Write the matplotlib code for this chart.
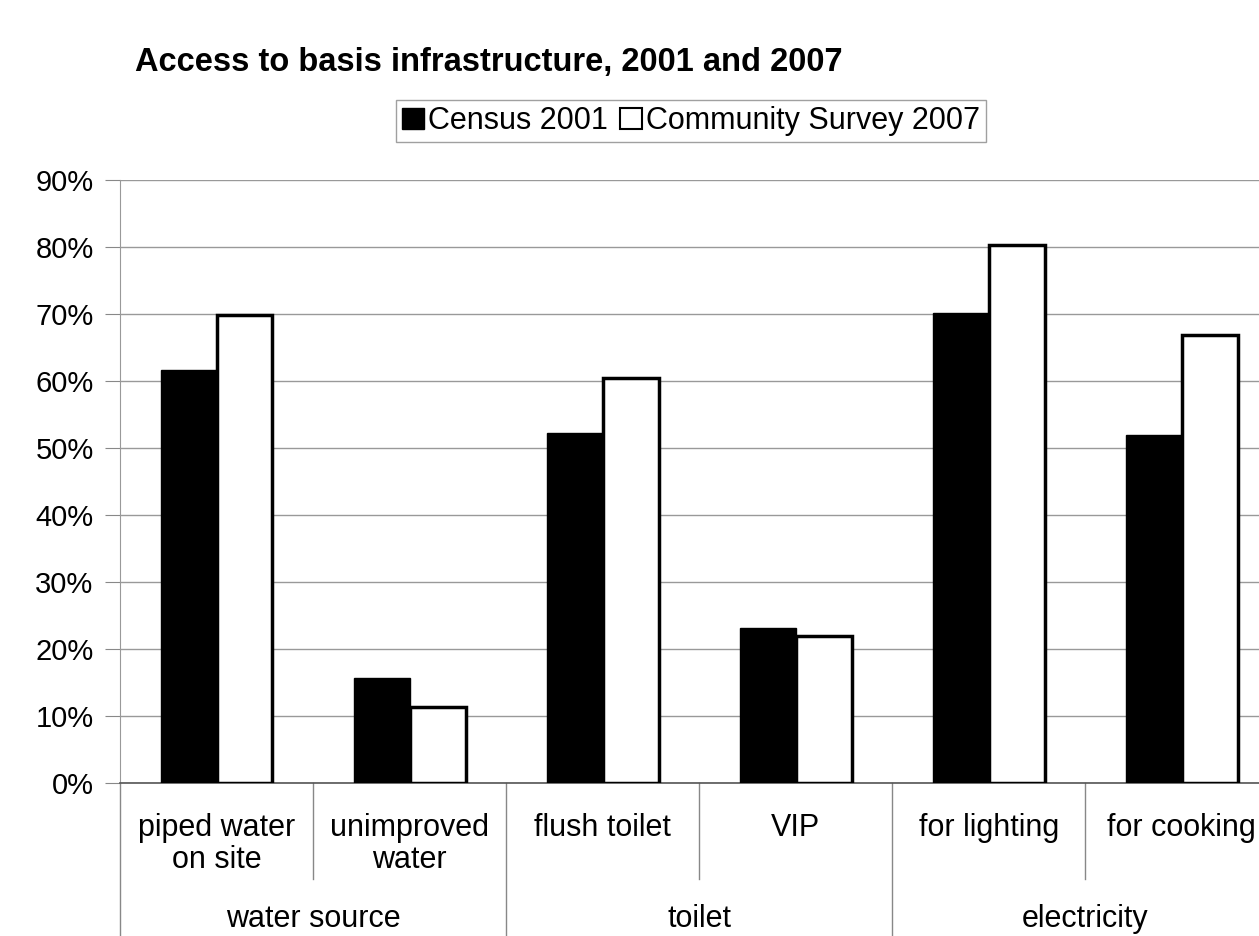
import matplotlib
matplotlib.use("Agg")
import matplotlib.pyplot as plt
from matplotlib.patches import Patch
from matplotlib.ticker import FuncFormatter

plt.rcParams['font.family'] = ['Liberation Sans', 'DejaVu Sans']

# data (percent)
categories = ["piped water\non site", "unimproved\nwater", "flush toilet",
              "VIP", "for lighting", "for cooking"]
groups = ["water source", "toilet", "electricity"]
census_2001 = [61.7, 15.6, 52.3, 23.1, 70.2, 51.9]
survey_2007 = [69.8, 11.3, 60.5, 21.9, 80.3, 66.8]
y_ticks = [0, 10, 20, 30, 40, 50, 60, 70, 80, 90]

fig = plt.figure(figsize=(12.59, 9.36), dpi=100)
ax = fig.add_axes([0.0953, 0.1635, 0.92, 0.6442])

x = list(range(len(categories)))
w = 0.29
ax.bar([i - w / 2 for i in x], census_2001, width=w, color="black",
       edgecolor="black", linewidth=1, zorder=3)
ax.bar([i + w / 2 for i in x], survey_2007, width=w, color="white",
       edgecolor="black", linewidth=2.5, zorder=3)

ax.set_xlim(-0.5, len(categories) - 0.5)
ax.set_ylim(0, 90)
ax.set_yticks(y_ticks)
ax.yaxis.set_major_formatter(FuncFormatter(lambda v, p: f"{v:.0f}%"))
ax.tick_params(axis="y", labelsize=21, length=11, color="#888888", pad=8)
ax.set_xticks([])
ax.yaxis.grid(True, color="#999999", linewidth=1)
ax.set_axisbelow(True)

for s in ["top", "right"]:
    ax.spines[s].set_visible(False)
ax.spines["left"].set_color("#999999")
ax.spines["bottom"].set_color("#555555")
ax.spines["bottom"].set_linewidth(1.2)

# two level category axis
trans = ax.get_xaxis_transform()
for i, lab in enumerate(categories):
    ax.text(i, -0.05, lab, transform=trans, ha="center", va="top",
            fontsize=22, linespacing=1.1)
for g, lab in enumerate(groups):
    ax.text(2 * g + 0.5, -0.225, lab, transform=trans, ha="center",
            va="center", fontsize=22)
for i in range(len(categories) + 1):
    xb = i - 0.5
    y_end = -0.16 if i % 2 == 1 else -0.26
    ax.plot([xb, xb], [0, y_end], transform=trans, color="#888888",
            linewidth=1, clip_on=False)

fig.text(0.107, 1 - 62 / 936, "Access to basis infrastructure, 2001 and 2007",
         fontsize=23.5, fontweight="bold", ha="left", va="center")

handles = [Patch(facecolor="black", edgecolor="black"),
           Patch(facecolor="white", edgecolor="black", linewidth=1.5)]
leg = fig.legend(handles, ["Census 2001", "Community Survey 2007"],
                 loc="center", bbox_to_anchor=(0.549, 1 - 121 / 936), ncol=2,
                 fontsize=22, frameon=True, fancybox=False, handlelength=0.7,
                 handleheight=0.7, handletextpad=0.15, columnspacing=0.4,
                 borderpad=0.2, borderaxespad=0)
leg.get_frame().set_edgecolor("#888888")
leg.get_frame().set_linewidth(1)

fig.savefig("out.png", dpi=100)
